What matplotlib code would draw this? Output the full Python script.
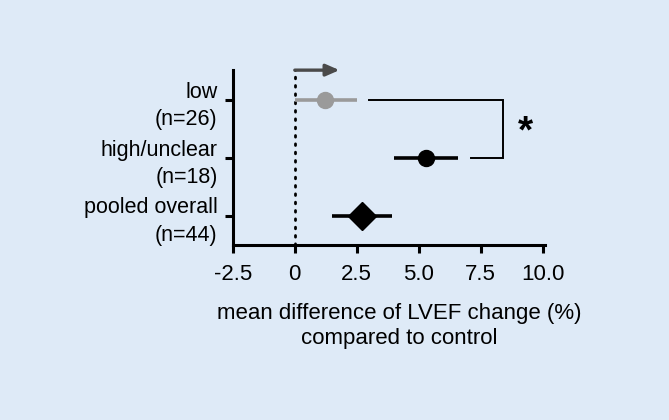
import matplotlib
matplotlib.use('Agg')
import matplotlib.pyplot as plt
from matplotlib.transforms import ScaledTranslation

plt.rcParams['font.family'] = ['Liberation Sans', 'DejaVu Sans']

# data
groups = ["low\n(n=26)", "high/unclear\n(n=18)", "pooled overall\n(n=44)"]
ypos = [3, 2, 1]
means = [1.2, 5.3, 2.7]
ci_low = [0.0, 4.0, 1.5]
ci_high = [2.5, 6.6, 3.9]
markers = ['o', 'o', 'D']
colors = ['#9a9a9a', 'black', 'black']
xticks = [-2.5, 0, 2.5, 5.0, 7.5, 10.0]
xticklabels = ["-2.5", "0", "2.5", "5.0", "7.5", "10.0"]

bg = '#deeaf7'
fig = plt.figure(figsize=(6.69, 4.2), dpi=100)
fig.patch.set_facecolor(bg)
ax = fig.add_axes([0.348, 0.417, 0.467, 0.416])
ax.set_facecolor(bg)

ax.axvline(0, color='black', lw=2, ls=(0, (0.6, 2.4)), dash_capstyle='round', zorder=1)

for y, m, lo, hi, mk, c in zip(ypos, means, ci_low, ci_high, markers, colors):
    ax.plot([lo, hi], [y, y], color=c, lw=2.6, solid_capstyle='butt', zorder=2)
    ms = 14 if mk == 'D' else 11.5
    ax.plot(m, y, marker=mk, color=c, ms=ms, mec=c, zorder=3)

# significance bracket
ax.plot([3.0, 8.4, 8.4, 7.1], [3, 3, 2, 2], color='black', lw=1.4,
        solid_joinstyle='miter', zorder=2)
ax.text(9.3, 2.45, "*", fontsize=28, fontweight='bold', ha='center', va='center')

# direction arrow on top
ax.annotate("", xy=(1.8, 3.52), xytext=(0.0, 3.52), annotation_clip=False,
            arrowprops=dict(arrowstyle="-|>,head_length=0.8,head_width=0.35",
                            color='#4a4a4a', lw=2.4, shrinkA=0, shrinkB=0))

ax.set_xlim(-2.5, 10.1)
ax.set_ylim(0.5, 3.52)
ax.set_xticks(xticks)
ax.set_xticklabels(xticklabels, fontsize=16)
ax.set_yticks(ypos)
ax.set_yticklabels(groups, fontsize=15.5, ha='right', linespacing=1.4)
shift = ScaledTranslation(0, -2 / 72, fig.dpi_scale_trans)
for lab in ax.get_yticklabels():
    lab.set_transform(lab.get_transform() + shift)
ax.tick_params(width=2.2, length=6, pad=5)
ax.tick_params(axis='x', pad=8)
for s in ['top', 'right']:
    ax.spines[s].set_visible(False)
for s in ['left', 'bottom']:
    ax.spines[s].set_linewidth(2.2)

ax.set_xlabel("mean difference of LVEF change (%)\ncompared to control",
              fontsize=16, linespacing=1.25)
ax.xaxis.set_label_coords(0.532, -0.33)
ax.xaxis.label.set_va('top')

fig.savefig("out.png", dpi=100, facecolor=bg)
